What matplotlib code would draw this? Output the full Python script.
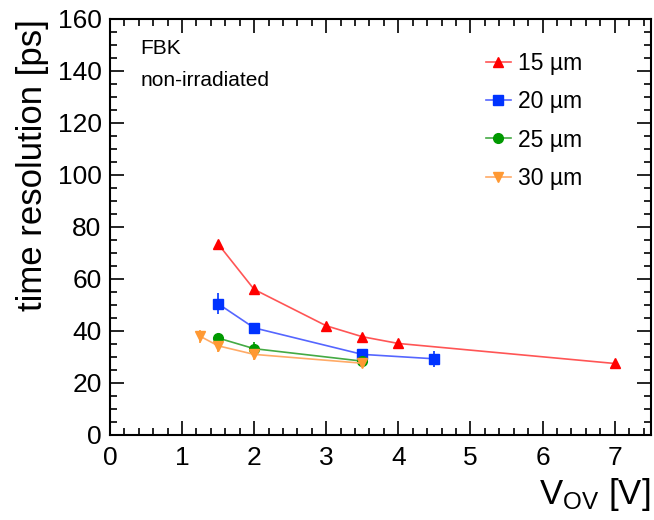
import matplotlib
matplotlib.use("Agg")
import matplotlib.pyplot as plt
from matplotlib.ticker import MultipleLocator

plt.rcParams['font.family'] = ['Liberation Sans', 'DejaVu Sans']
plt.rcParams['mathtext.fontset'] = 'custom'
plt.rcParams['mathtext.rm'] = 'Liberation Sans'
plt.rcParams['mathtext.it'] = 'Liberation Sans'

x15 = [1.5, 2.0, 3.0, 3.5, 4.0, 7.0]
y15 = [73.5, 56.0, 42.0, 37.8, 35.2, 27.5]
e15 = [1.0, 1.0, 0.8, 0.8, 0.8, 0.8]

x20 = [1.5, 2.0, 3.5, 4.5]
y20 = [50.5, 41.2, 31.0, 29.3]
e20 = [4.0, 1.5, 1.5, 3.0]

x25 = [1.5, 2.0, 3.5]
y25 = [37.3, 33.2, 28.4]
e25 = [1.0, 2.5, 1.0]

x30 = [1.25, 1.5, 2.0, 3.5]
y30 = [38.0, 34.3, 31.0, 27.6]
e30 = [2.5, 2.5, 2.0, 1.2]

labels = ['15 µm', '20 µm', '25 µm', '30 µm']

fig = plt.figure(figsize=(6.54, 5.2), dpi=100)
ax = fig.add_axes([0.168, 0.1635, 0.827, 0.8])

series = [
    (x15, y15, e15, '#ff0000', '#ff5555', '^', 7),
    (x20, y20, e20, '#0033ff', '#5566ff', 's', 6.5),
    (x25, y25, e25, '#009900', '#44aa44', 'o', 7),
    (x30, y30, e30, '#ff9933', '#ffaa66', 'v', 7),
]
for (xs, ys, es, mc, lc, mk, ms), lab in zip(series, labels):
    ax.errorbar(xs, ys, yerr=es, fmt='none', ecolor=mc, elinewidth=1.2, capsize=0, zorder=2)
    ax.plot(xs, ys, color=lc, lw=1.2, marker=mk, ms=ms, mfc=mc, mec=mc, label=lab, zorder=3)

ax.set_xlim(0, 7.5)
ax.set_ylim(0, 160)
ax.xaxis.set_major_locator(MultipleLocator(1))
ax.xaxis.set_minor_locator(MultipleLocator(0.2))
ax.yaxis.set_major_locator(MultipleLocator(20))
ax.yaxis.set_minor_locator(MultipleLocator(5))
ax.tick_params(which='both', direction='in', top=True, right=True, width=1.2, labelsize=19)
ax.tick_params(which='major', length=10)
ax.tick_params(which='minor', length=5)
ax.tick_params(axis='x', pad=8)
ax.tick_params(axis='y', pad=6)
for s in ax.spines.values():
    s.set_linewidth(1.5)

ax.set_ylabel('time resolution [ps]', fontsize=25, loc='top', labelpad=6)
ax.set_xlabel(r'V$_{\mathregular{OV}}$ [V]', fontsize=25, loc='right', labelpad=4)

ax.text(0.057, 0.93, 'FBK', transform=ax.transAxes, fontsize=15, va='center', ha='left')
ax.text(0.057, 0.852, 'non-irradiated', transform=ax.transAxes, fontsize=15, va='center', ha='left')

leg = ax.legend(loc='upper left', bbox_to_anchor=(0.695, 0.92), frameon=False, fontsize=16.5,
                handlelength=1.1, handletextpad=0.3, labelspacing=0.66, borderpad=0.0,
                borderaxespad=0.0)

fig.savefig('out.png', dpi=100)
